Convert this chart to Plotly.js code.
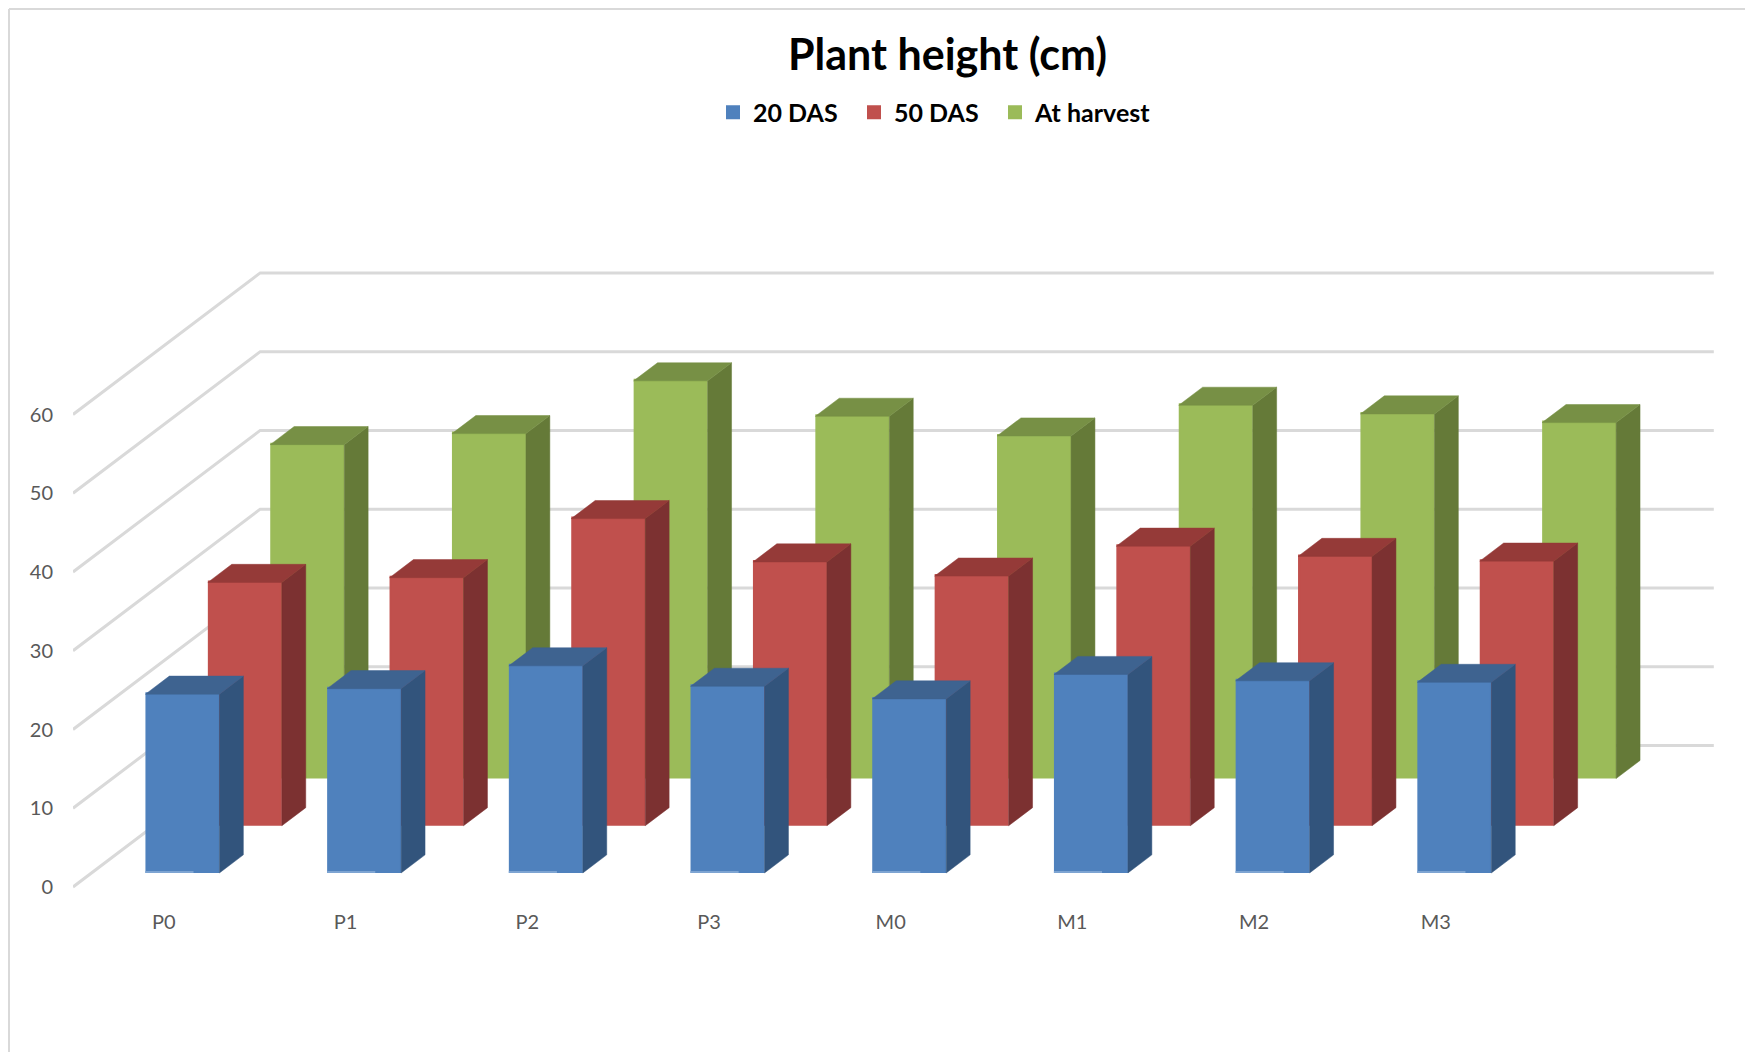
<!DOCTYPE html>
<html>
<head>
<meta charset="utf-8">
<script src="https://cdn.plot.ly/plotly-3.0.1.min.js"></script>
<style>html,body{margin:0;padding:0;background:#fff}#chart{width:1745px;height:1052px}</style>
</head>
<body>
<div id="chart"></div>
<script>
var categories = ["P0","P1","P2","P3","M0","M1","M2","M3"];
var das20 = [22.7,23.4,26.3,23.7,22.1,25.2,24.4,24.2];
var das50 = [30.9,31.5,39.0,33.5,31.7,35.5,34.2,33.6];
var harvest = [42.4,43.8,50.5,46.0,43.5,47.4,46.3,45.2];
var gridValues = [0,10,20,30,40,50,60];

var FONT_BODY = 'Lato,"Liberation Sans",sans-serif';
var W = 1745, H = 1052;
var L = 73, R = 1722, T = 170, B = 897, ZERO_PX = 887;
var CAT_PX = 181.7, UNIT_PX = 7.875;
var ROW_DX = 62.4 / CAT_PX, ROW_DY = 47.2 / UNIT_PX;
var ROWS = 3, BAR_W = 74 / CAT_PX, BAR_D = 18 / 47, FRONT_D = 14 / 47;
var OUTLINE_PX = 2;

var xRange = [0, (R - L) / CAT_PX];
var yRange = [(ZERO_PX - B) / UNIT_PX, (ZERO_PX - T) / UNIT_PX];

var series = [
  {name:"At harvest", values:harvest, row:2, ax:"2", legend:"legend3", front:"#9bbb59", side:"#657a38", top:"#779045"},
  {name:"50 DAS",     values:das50,   row:1, ax:"3", legend:"legend2", front:"#c0504d", side:"#7c3131", top:"#953a38"},
  {name:"20 DAS",     values:das20,   row:0, ax:"4", legend:"legend",  front:"#4f81bd", side:"#32547c", top:"#3e6390"}
];

var traces = [];

// back wall, left wall and their gridlines, drawn in the rearmost axes
var gx = [], gy = [];
gridValues.forEach(function (v) {
  gx.push(0, ROWS * ROW_DX, categories.length + ROWS * ROW_DX, null);
  gy.push(v, v + ROWS * ROW_DY, v + ROWS * ROW_DY, null);
});
traces.push({type:"scatter", mode:"lines", x:gx, y:gy, xaxis:"x", yaxis:"y",
  line:{color:"#d9d9d9", width:3}, hoverinfo:"skip", showlegend:false});

series.forEach(function (s) {
  var d = s.row + FRONT_D, lift = d * ROW_DY;
  var dx = BAR_D * ROW_DX, dy = BAR_D * ROW_DY;
  var xa = "x" + s.ax, ya = "y" + s.ax;
  var xc = categories.map(function (_, c) { return c + 0.5 + d * ROW_DX; });

  traces.push({type:"bar", name:s.name, legend:s.legend, x:xc, y:s.values,
    base:s.values.map(function () { return lift + (OUTLINE_PX / 2) / UNIT_PX; }),
    width:s.values.map(function () { return BAR_W - OUTLINE_PX / CAT_PX; }),
    text:categories, textposition:"none", hovertemplate:"%{text}: %{y}<extra>"+s.name+"</extra>",
    marker:{color:s.front, line:{color:s.front, width:OUTLINE_PX}},
    xaxis:xa, yaxis:ya});

  var sx = [], sy = [], tx = [], ty = [];
  s.values.forEach(function (v, c) {
    var xl = xc[c] - BAR_W / 2, xr = xc[c] + BAR_W / 2, y1 = lift + v;
    sx.push(xr, xr, xr + dx, xr + dx, xr, null);
    sy.push(lift, y1, y1 + dy, lift + dy, lift, null);
    tx.push(xl, xr, xr + dx, xl + dx, xl, null);
    ty.push(y1, y1, y1 + dy, y1 + dy, y1, null);
  });
  [[sx, sy, s.side], [tx, ty, s.top]].forEach(function (f) {
    traces.push({type:"scatter", mode:"lines", x:f[0], y:f[1], fill:"toself", fillcolor:f[2],
      line:{color:f[2], width:0.5}, xaxis:xa, yaxis:ya, hoverinfo:"skip", showlegend:false});
  });

  if (s.row === 0) {
    var bx = [], by = [];
    s.values.forEach(function (v, c) {
      bx.push(xc[c] - BAR_W / 2, xc[c] - BAR_W / 2 + BAR_W * 0.65, null);
      by.push(lift + 0.13, lift + 0.13, null);
    });
    traces.push({type:"scatter", mode:"lines", x:bx, y:by, line:{color:"#7da4d2", width:2},
      xaxis:xa, yaxis:ya, hoverinfo:"skip", showlegend:false});
  }
});

var hiddenX = function () { return {range:xRange, visible:false, overlaying:"x", anchor:"y", fixedrange:true}; };
var hiddenY = function () { return {range:yRange, visible:false, overlaying:"y", anchor:"x", fixedrange:true}; };
var px2x = function (p) { return (p - L) / (R - L); };
var px2y = function (p) { return (B - p) / (B - T); };
var legendAt = function (p) {
  return {orientation:"h", x:px2x(p), xanchor:"left", y:px2y(112.5), yanchor:"middle",
    font:{family:FONT_BODY, size:25, color:"#000", weight:"bold"}, bgcolor:"rgba(0,0,0,0)"};
};

var layout = {
  width:W, height:H, paper_bgcolor:"#fff", plot_bgcolor:"rgba(0,0,0,0)",
  margin:{l:L, r:W - R, t:T, b:H - B, pad:0},
  barmode:"overlay",
  font:{family:FONT_BODY, color:"#595959"},
  title:{text:"<b>Plant height (cm)</b>", font:{family:FONT_BODY, size:43, color:"#000"},
    x:px2x(947.5), xanchor:"center", xref:"paper", y:1 - 55 / H, yanchor:"middle", yref:"container"},
  xaxis:{range:xRange, tickmode:"array", tickvals:categories.map(function (_, i) { return i + 0.5; }),
    ticktext:categories, showgrid:false, zeroline:false, showline:false, ticks:"",
    tickfont:{family:FONT_BODY, size:20, color:"#595959"}, ticklabelstandoff:11, fixedrange:true},
  yaxis:{range:yRange, tickmode:"array", tickvals:gridValues, ticktext:gridValues.map(String),
    showgrid:false, zeroline:false, showline:false, ticks:"",
    tickfont:{family:FONT_BODY, size:20, color:"#595959"}, ticklabelstandoff:19, fixedrange:true},
  xaxis2:hiddenX(), yaxis2:hiddenY(), xaxis3:hiddenX(), yaxis3:hiddenY(), xaxis4:hiddenX(), yaxis4:hiddenY(),
  legend:legendAt(713), legend2:legendAt(854), legend3:legendAt(995),
  shapes:[
    {type:"line", xref:"paper", yref:"paper", x0:px2x(9), x1:px2x(W), y0:px2y(9), y1:px2y(9), line:{color:"#d9d9d9", width:2}},
    {type:"line", xref:"paper", yref:"paper", x0:px2x(9), x1:px2x(9), y0:px2y(9), y1:px2y(H), line:{color:"#d9d9d9", width:2}}
  ],
  showlegend:true, hovermode:"closest"
};

Plotly.newPlot("chart", traces, layout, {displayModeBar:false, responsive:false});
</script>
</body>
</html>
